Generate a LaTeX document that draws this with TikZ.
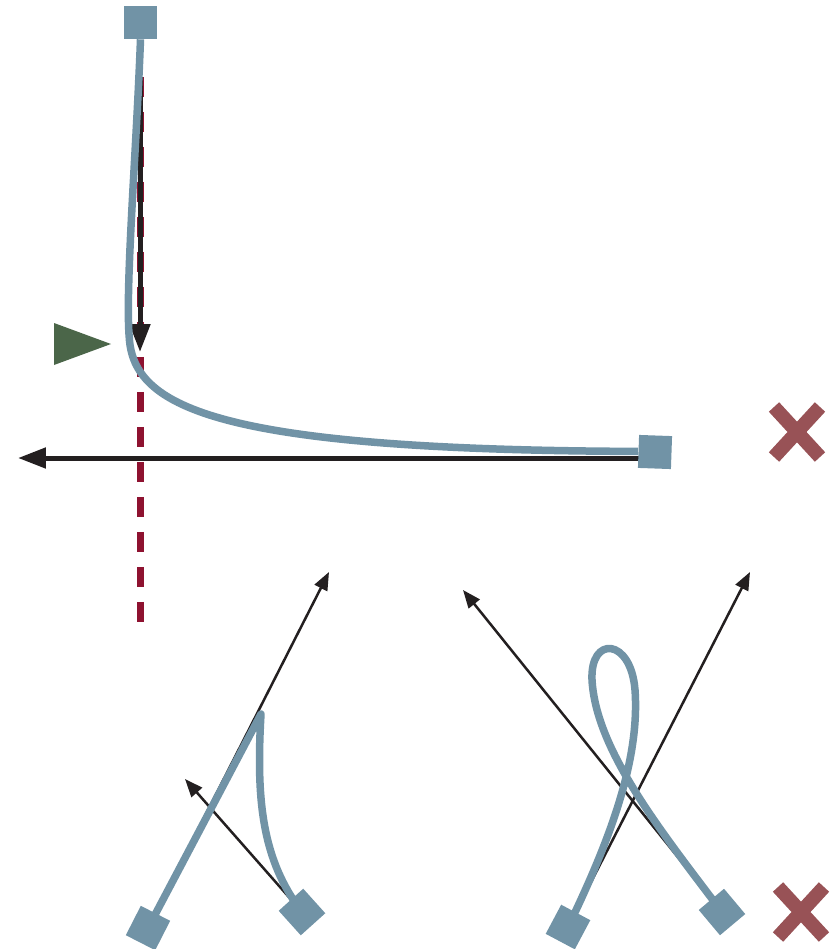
\documentclass[tikz,border=0pt]{standalone}
\usetikzlibrary{arrows.meta,backgrounds}
\definecolor{lnAzul}{HTML}{7193A6}
\definecolor{lnRojo}{HTML}{8E1230}
\definecolor{lnVerde}{HTML}{4B6649}
\definecolor{lnCruz}{HTML}{985256}
\definecolor{lnNegro}{HTML}{231F20}

\begin{document}
\begin{tikzpicture}[x=0.02cm, y=-0.02cm,
      sq/.style={fill=lnAzul, inner sep=0pt, minimum size=0.66cm},
      cuerda/.style={draw=lnAzul, line width=0.15cm, line join=round},
      flecha/.style={draw=lnNegro, line width=0.1cm, -{Triangle[length=5.6mm,width=4mm]}},
      fina/.style={draw=lnNegro, line width=0.05cm, -{Triangle[length=3.6mm,width=2.8mm]}},
      xmark/.pic={\draw[lnCruz, line width=0.28cm] (-23,-25) -- (23,25) (-23,25) -- (23,-25);}]
    \useasboundingbox (0,0) rectangle (836,949);
    % arriba
    \node[sq]              (a) at (140.5,22.5) {};
    \node[sq, rotate=-2]   (b) at (655,452)    {};
    \coordinate (a1) at (140,77);
    \coordinate (a2) at (140,352);
    \coordinate (a3) at (140,622);
    \coordinate (b1) at (650,458);
    \coordinate (b2) at (18,458);
    % abajo
    \node[sq, rotate=63] (c) at (148,928) {};
    \node[sq, rotate=42] (d) at (302,912) {};
    \node[sq, rotate=62] (e) at (568,927) {};
    \node[sq, rotate=40] (f) at (722,912) {};
    \coordinate (c1) at (329,572);
    \coordinate (c2) at (261,714);
    \coordinate (d1) at (185,779);
    \coordinate (e1) at (750,572);
    \coordinate (f1) at (463,590);
    \begin{scope}[on background layer]
      \draw[lnRojo, line width=0.14cm, dash pattern=on 0.4cm off 0.3cm] (a1) -- (a3);
      \draw[flecha] (a1) -- (a2);
      \draw[flecha] (b1) -- (b2);
      \draw[cuerda] (a.south) .. controls (136,160) and (124,300) .. (130,345)
                    .. controls (140,410) and (230,450) .. (b.west);
      \draw[fina] (c.center) -- (c1);
      \draw[fina] (d.center) -- (d1);
      \draw[cuerda] (c.center) -- (c2) .. controls (256,800) and (262,860) .. (d.center);
      \draw[fina] (e.center) -- (e1);
      \draw[fina] (f.center) -- (f1);
      \draw[cuerda] (e.center) .. controls (610,840) and (640,760) .. (635,690)
                    .. controls (631,638) and (590,635) .. (592,680)
                    .. controls (596,750) and (660,830) .. (f.center);
    \end{scope}
    \fill[lnVerde] (54,323) -- (54,365) -- (111,344) -- cycle;
    \pic at (797,432) {xmark};
    \pic at (801,912) {xmark};
  \end{tikzpicture}
\end{document}
